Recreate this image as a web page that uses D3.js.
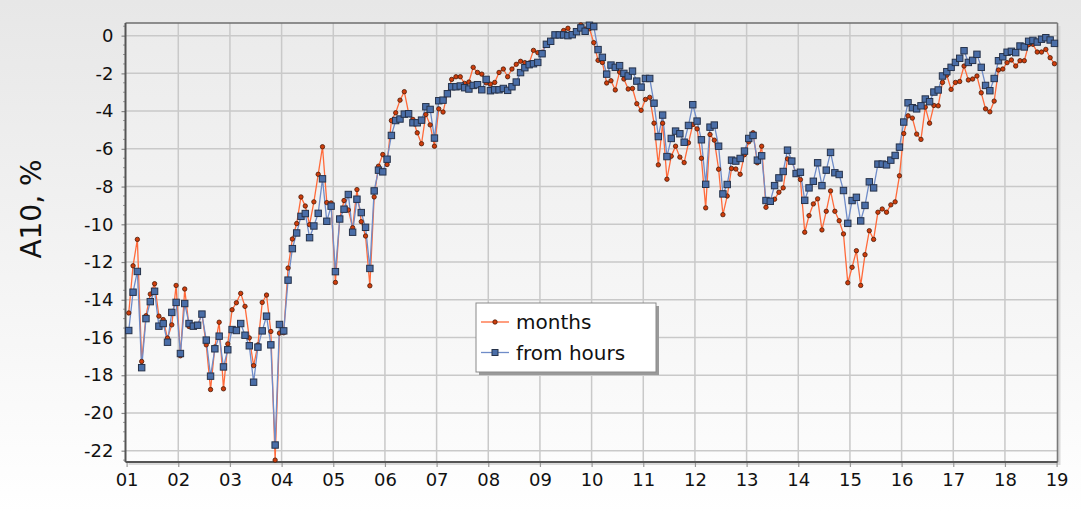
<!DOCTYPE html>
<html>
<head>
<meta charset="utf-8">
<script src="https://cdn.jsdelivr.net/npm/d3@7"></script>
<style>
  html, body { margin: 0; padding: 0; background: #fff; }
  svg { display: block; font-family: "DejaVu Sans", Verdana, sans-serif; }
</style>
</head>
<body>
<svg id="chart" width="1081" height="513"></svg>
<script>
// Monthly A10 values, January 2001 .. December 2018
const firstYear = 2001;
const yearTickLabels = ["01","02","03","04","05","06","07","08","09","10",
                        "11","12","13","14","15","16","17","18","19"];
const yTickValues = [0, -2, -4, -6, -8, -10, -12, -14, -16, -18, -20, -22];

const monthsSeries = [
  -14.7, -12.2, -10.8, -17.27, -14.85, -13.7, -13.15, -14.87, -15.05, -16.03, -15.33, -13.24,
  -16.97, -13.43, -15.42, -15.35, -15.35, -14.76, -16.39, -18.76, -16.5, -15.19, -18.72, -16.34,
  -14.53, -14.16, -13.66, -14.35, -16.02, -17.49, -16.39, -14.14, -13.75, -15.68, -22.5, -15.77,
  -15.75, -12.32, -10.78, -9.96, -8.55, -9.03, -10.02, -8.81, -7.35, -5.89, -8.85, -8.87,
  -13.08, -9.68, -8.74, -9.24, -10.18, -8.16, -9.86, -10.62, -13.26, -8.55, -6.92, -6.3,
  -6.83, -4.5, -4.09, -3.42, -2.97, -4.1, -4.44, -5.15, -5.73, -4.18, -4.73, -5.86,
  -3.88, -4.05, -3.06, -2.32, -2.18, -2.18, -2.53, -2.46, -1.68, -1.95, -2.04, -2.5,
  -2.57, -2.48, -1.95, -1.77, -2.18, -1.77, -1.52, -1.36, -1.43, -1.45, -0.78, -0.9,
  -0.88, -0.44, -0.25, 0.0, 0.02, 0.27, 0.39, 0.05, 0.2, 0.57, 0.35, 0.37,
  -0.37, -1.31, -1.42, -2.51, -2.39, -2.88, -1.93, -2.3, -2.83, -2.8, -3.61, -3.96,
  -3.38, -3.27, -4.64, -6.85, -4.64, -7.61, -6.39, -5.86, -6.44, -6.73, -5.68, -4.71,
  -4.94, -6.5, -9.13, -5.24, -5.54, -7.08, -9.49, -8.5, -7.04, -7.07, -7.35, -6.31,
  -5.63, -5.15, -6.74, -5.86, -9.1, -8.8, -8.67, -8.3, -8.07, -6.53, -6.6, -7.35,
  -7.63, -10.42, -9.54, -8.92, -8.65, -10.3, -9.31, -8.23, -9.31, -9.81, -10.51, -13.1,
  -12.28, -11.4, -13.24, -11.61, -10.34, -10.8, -9.36, -9.19, -9.36, -8.97, -8.81, -7.43,
  -5.19, -4.25, -4.37, -5.22, -5.5, -3.79, -4.64, -3.7, -3.72, -2.48, -2.09, -2.85,
  -2.48, -2.43, -1.61, -2.35, -2.3, -2.14, -3.03, -3.88, -4.04, -3.47, -1.82, -1.77,
  -1.43, -1.29, -1.61, -1.33, -1.33, -0.48, -0.46, -0.87, -0.87, -0.73, -1.17, -1.49
];

const fromHoursSeries = [
  -15.63, -13.6, -12.5, -17.6, -15.0, -14.1, -13.55, -15.4, -15.26, -16.25, -14.67, -14.14,
  -16.85, -14.2, -15.26, -15.4, -15.35, -14.76, -16.14, -18.05, -16.6, -15.93, -17.56, -16.65,
  -15.58, -15.63, -15.26, -15.88, -16.44, -18.37, -16.51, -15.65, -14.87, -16.39, -21.7, -15.31,
  -15.65, -12.96, -11.29, -10.46, -9.58, -9.43, -10.71, -10.09, -9.42, -7.59, -9.84, -9.04,
  -12.51, -9.72, -9.2, -8.42, -10.42, -8.67, -9.38, -10.16, -12.34, -8.23, -7.13, -7.22,
  -6.55, -5.29, -4.5, -4.42, -4.16, -4.14, -4.62, -4.62, -4.48, -3.77, -3.91, -5.43,
  -3.45, -3.42, -3.08, -2.71, -2.71, -2.67, -2.76, -2.83, -2.64, -2.6, -2.87, -2.32,
  -2.92, -2.87, -2.87, -2.8, -2.9, -2.71, -2.46, -1.96, -1.7, -1.54, -1.49, -1.42,
  -0.96, -0.46, -0.3, 0.04, 0.04, 0.04, 0.0, 0.05, 0.21, 0.41, 0.23, 0.55,
  0.48, -0.74, -1.15, -2.04, -1.56, -1.68, -1.59, -2.0, -2.14, -1.88, -2.41, -2.73,
  -2.27, -2.27, -3.58, -5.35, -4.21, -6.41, -5.45, -5.06, -5.2, -5.65, -4.76, -3.66,
  -4.53, -5.52, -7.88, -4.85, -4.74, -5.86, -8.39, -7.89, -6.6, -6.65, -6.51, -6.12,
  -5.45, -5.29, -6.6, -6.37, -8.74, -8.78, -7.95, -7.54, -7.2, -6.07, -6.65, -7.31,
  -7.24, -8.73, -8.07, -7.72, -6.74, -7.95, -7.13, -6.19, -7.27, -7.36, -8.21, -9.95,
  -8.74, -8.57, -9.82, -9.0, -7.75, -8.07, -6.81, -6.81, -6.85, -6.6, -6.35, -5.91,
  -4.58, -3.56, -3.82, -3.88, -3.72, -3.36, -3.5, -2.99, -2.88, -2.14, -1.91, -1.68,
  -1.42, -1.2, -0.8, -1.42, -1.31, -0.99, -1.68, -2.64, -2.92, -2.27, -1.33, -1.12,
  -0.88, -0.83, -0.9, -0.55, -0.6, -0.3, -0.25, -0.34, -0.19, -0.11, -0.23, -0.41
];

const seriesNames = ["months", "from hours"];

// ---- layout ----
const W = 1081, H = 513;
const plot = { left: 125.5, right: 1057.5, top: 23, bottom: 462 };

const svg = d3.select("#chart");
const defs = svg.append("defs");

const bgGrad = defs.append("linearGradient").attr("id", "bgGrad")
  .attr("x1", 0).attr("y1", 0).attr("x2", 0).attr("y2", 1);
bgGrad.append("stop").attr("offset", "0%").attr("stop-color", "#e7e7e7");
bgGrad.append("stop").attr("offset", "100%").attr("stop-color", "#ffffff");

const plotGrad = defs.append("linearGradient").attr("id", "plotGrad")
  .attr("x1", 0).attr("y1", 0).attr("x2", 0).attr("y2", 1);
plotGrad.append("stop").attr("offset", "0%").attr("stop-color", "#ebebeb");
plotGrad.append("stop").attr("offset", "100%").attr("stop-color", "#fcfcfc");

svg.append("rect").attr("width", W).attr("height", H).attr("fill", "url(#bgGrad)");

// ---- scales ----
const x = d3.scaleLinear()
  .domain([firstYear, firstYear + yearTickLabels.length - 1])
  .range([126.6, 1056.6]);
const y = d3.scaleLinear().domain([-22.6, 0.67]).range([plot.bottom, plot.top]);

const dateOf = i => firstYear + (i + 0.5) / 12;

// plot background + subtle shadow on right/bottom edges
svg.append("rect")
  .attr("x", plot.left + 3).attr("y", plot.top + 3)
  .attr("width", plot.right - plot.left).attr("height", plot.bottom - plot.top)
  .attr("fill", "#dadada");
svg.append("rect")
  .attr("x", plot.left).attr("y", plot.top)
  .attr("width", plot.right - plot.left).attr("height", plot.bottom - plot.top)
  .attr("fill", "url(#plotGrad)");

// ---- grid ----
const yearValues = yearTickLabels.map((d, i) => firstYear + i);
const grid = svg.append("g").attr("stroke", "#c9c9c9").attr("stroke-width", 1.5);
grid.selectAll("line.v").data(yearValues.slice(1, -1)).join("line")
  .attr("x1", d => x(d)).attr("x2", d => x(d))
  .attr("y1", plot.top).attr("y2", plot.bottom);
grid.selectAll("line.h").data(yTickValues).join("line")
  .attr("x1", plot.left).attr("x2", plot.right)
  .attr("y1", d => y(d)).attr("y2", d => y(d));

// ---- axes ----
const yAxis = d3.axisLeft(y).tickValues(yTickValues).tickSize(4).tickPadding(8)
  .tickFormat(d => d3.format("d")(d).replace("−", "-"));
const gy = svg.append("g").attr("transform", `translate(${plot.left},0)`).call(yAxis);
gy.select(".domain").remove();
gy.selectAll(".tick line").attr("stroke", "#888").attr("stroke-width", 1.2);
gy.selectAll(".tick text").attr("font-size", 18).attr("fill", "#111")
  .attr("font-family", "'DejaVu Sans', Verdana, sans-serif");

// minor ticks on the value axis
const minorVals = d3.range(-22.5, 0.6, 0.5).filter(v => Math.abs(v % 2) > 1e-6);
svg.append("g").selectAll("line").data(minorVals).join("line")
  .attr("x1", plot.left - 2.5).attr("x2", plot.left)
  .attr("y1", d => y(d)).attr("y2", d => y(d))
  .attr("stroke", "#999").attr("stroke-width", 1);

const xAxis = d3.axisBottom(x).tickValues(yearValues).tickSize(5).tickPadding(6)
  .tickFormat((d, i) => yearTickLabels[i]);
const gx = svg.append("g").attr("transform", `translate(0,${plot.bottom})`).call(xAxis);
gx.select(".domain").remove();
gx.selectAll(".tick line").attr("stroke", "#999").attr("stroke-width", 1.2);
gx.selectAll(".tick text").attr("font-size", 18).attr("fill", "#111")
  .attr("font-family", "'DejaVu Sans', Verdana, sans-serif");

// plot frame
const frame = svg.append("g").attr("fill", "none");
frame.append("line").attr("x1", plot.left).attr("x2", plot.right)
  .attr("y1", plot.top).attr("y2", plot.top).attr("stroke", "#6e6e6e").attr("stroke-width", 1.6);
frame.append("line").attr("x1", plot.right).attr("x2", plot.right)
  .attr("y1", plot.top).attr("y2", plot.bottom).attr("stroke", "#7a7a7a").attr("stroke-width", 1.6);
frame.append("line").attr("x1", plot.left).attr("x2", plot.left)
  .attr("y1", plot.top).attr("y2", plot.bottom).attr("stroke", "#555").attr("stroke-width", 2);
frame.append("line").attr("x1", plot.left).attr("x2", plot.right)
  .attr("y1", plot.bottom).attr("y2", plot.bottom).attr("stroke", "#555").attr("stroke-width", 2);

// axis title
svg.append("text")
  .attr("transform", "translate(41,209) rotate(-90)")
  .attr("text-anchor", "middle")
  .attr("font-size", 28).attr("fill", "#111")
  .text("A10, %");

// ---- series ----
const lineGen = d3.line().x((d, i) => x(dateOf(i))).y(d => y(d));

const orange = "#ff6a3a", orangeDot = "#cf3d0c";
const blue = "#6f8cc8", blueSq = "#4a6ea8";

const series = svg.append("g");
series.append("path").datum(monthsSeries)
  .attr("d", lineGen).attr("fill", "none")
  .attr("stroke", orange).attr("stroke-width", 1.3);
series.append("path").datum(fromHoursSeries)
  .attr("d", lineGen).attr("fill", "none")
  .attr("stroke", blue).attr("stroke-width", 1.3);

series.append("g").selectAll("circle").data(monthsSeries).join("circle")
  .attr("cx", (d, i) => x(dateOf(i))).attr("cy", d => y(d)).attr("r", 2.2)
  .attr("fill", orangeDot).attr("stroke", "#4a1a08").attr("stroke-width", 0.8);

const sq = 6.4;
series.append("g").selectAll("rect").data(fromHoursSeries).join("rect")
  .attr("x", (d, i) => x(dateOf(i)) - sq / 2).attr("y", d => y(d) - sq / 2)
  .attr("width", sq).attr("height", sq)
  .attr("fill", blueSq).attr("stroke", "#26324a").attr("stroke-width", 1);

// ---- legend ----
const lg = svg.append("g").attr("transform", "translate(476,303)");
lg.append("rect").attr("x", 3).attr("y", 3).attr("width", 180).attr("height", 69).attr("fill", "#9a9a9a");
lg.append("rect").attr("x", 0).attr("y", 0).attr("width", 180).attr("height", 69)
  .attr("fill", "#fff").attr("stroke", "#8a8a8a").attr("stroke-width", 1);
const rows = [
  { name: seriesNames[0], line: orange, mark: "circle" },
  { name: seriesNames[1], line: blue, mark: "square" }
];
rows.forEach((r, i) => {
  const cy = 19 + i * 30.5;
  lg.append("line").attr("x1", 5).attr("x2", 33).attr("y1", cy).attr("y2", cy)
    .attr("stroke", r.line).attr("stroke-width", 1.3);
  if (r.mark === "circle") {
    lg.append("circle").attr("cx", 19).attr("cy", cy).attr("r", 2.2)
      .attr("fill", orangeDot).attr("stroke", "#4a1a08").attr("stroke-width", 0.8);
  } else {
    lg.append("rect").attr("x", 16).attr("y", cy - 3).attr("width", 6).attr("height", 6)
      .attr("fill", blueSq).attr("stroke", "#26324a").attr("stroke-width", 1);
  }
  lg.append("text").attr("x", 40).attr("y", cy + 7).attr("font-size", 20)
    .attr("fill", "#111").text(r.name);
});
</script>
</body>
</html>
